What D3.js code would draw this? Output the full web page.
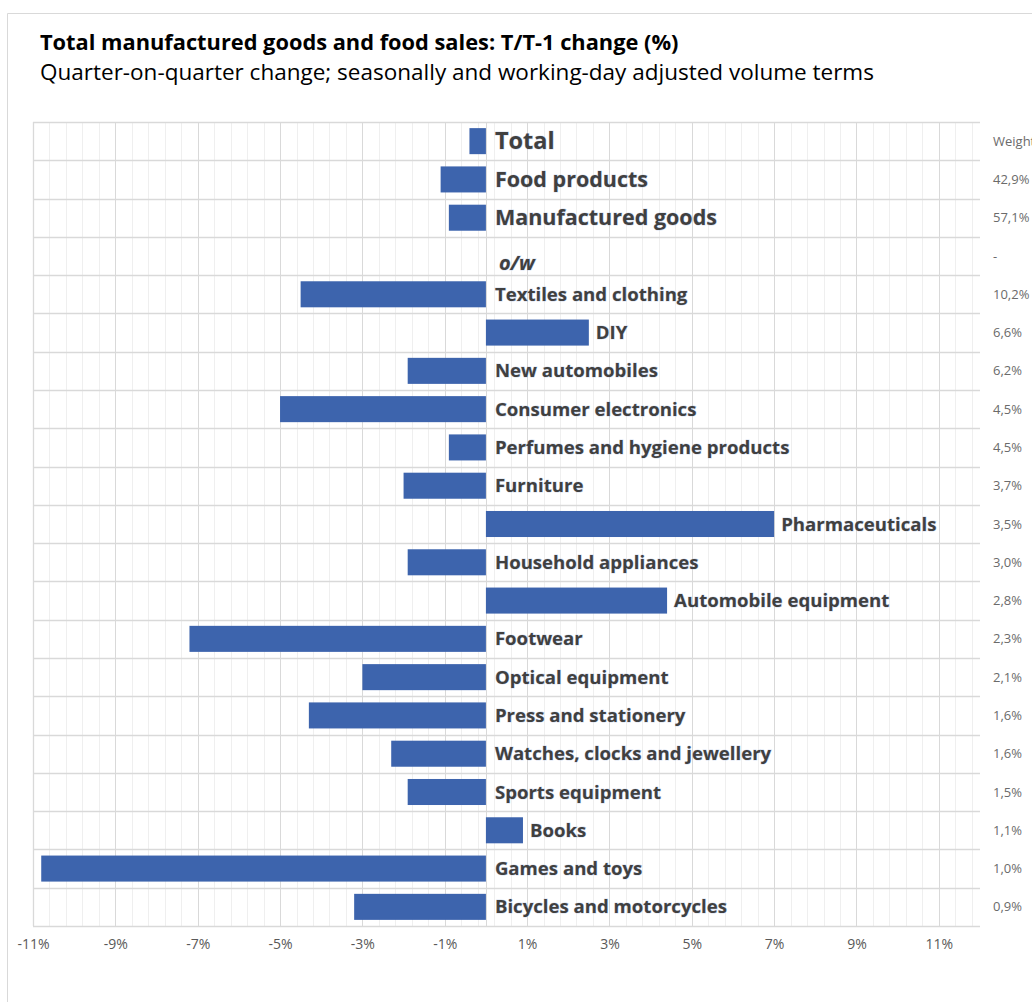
<!DOCTYPE html>
<html>
<head>
<meta charset="utf-8">
<script src="https://cdn.jsdelivr.net/npm/d3@7"></script>
<style>
  body { margin: 0; background: #fff; }
  svg { display: block; font-family: "Open Sans", sans-serif; }
</style>
</head>
<body>
<div id="chart"></div>
<script>
// Data
const categories = [
  "Total", "Food products", "Manufactured goods", "o/w",
  "Textiles and clothing", "DIY", "New automobiles", "Consumer electronics",
  "Perfumes and hygiene products", "Furniture", "Pharmaceuticals",
  "Household appliances", "Automobile equipment", "Footwear",
  "Optical equipment", "Press and stationery", "Watches, clocks and jewellery",
  "Sports equipment", "Books", "Games and toys", "Bicycles and motorcycles"
];
const changes = [
  -0.4, -1.1, -0.9, null,
  -4.5, 2.5, -1.9, -5.0,
  -0.9, -2.0, 7.0,
  -1.9, 4.4, -7.2,
  -3.0, -4.3, -2.3,
  -1.9, 0.9, -10.8, -3.2
];
const weights = [
  "Weight", "42,9%", "57,1%", "-",
  "10,2%", "6,6%", "6,2%", "4,5%",
  "4,5%", "3,7%", "3,5%",
  "3,0%", "2,8%", "2,3%",
  "2,1%", "1,6%", "1,6%",
  "1,5%", "1,1%", "1,0%", "0,9%"
];
const xTicks = [-11, -9, -7, -5, -3, -1, 1, 3, 5, 7, 9, 11];

const rows = categories.map((c, i) => ({ name: c, value: changes[i], weight: weights[i], i }));

// Chart dimensions and margins
const width = 1032;
const height = 1002;
const marginTop = 122;
const marginRight = 52;
const marginBottom = 76;
const marginLeft = 33;

const x = d3.scaleLinear([-11, 12], [marginLeft, width - marginRight]);
const y = d3.scaleBand(categories, [marginTop, height - marginBottom])
    .paddingInner(0.32)
    .paddingOuter(0.16);

const svg = d3.select("#chart").append("svg")
    .attr("width", width)
    .attr("height", height)
    .attr("viewBox", [0, 0, width, height]);

svg.append("rect").attr("width", width).attr("height", height).attr("fill", "#fff");

// outer frame (top and left edges visible)
svg.append("path")
    .attr("d", `M7.5,${height + 5}V13.5H${width + 5}`)
    .attr("fill", "none")
    .attr("stroke", "#d9d9d9");

// titles
svg.append("text")
    .attr("x", 40).attr("y", 50)
    .attr("font-size", 21.8).attr("font-weight", 700).attr("fill", "#000")
    .text("Total manufactured goods and food sales: T/T-1 change (%)");
svg.append("text")
    .attr("x", 40).attr("y", 80)
    .attr("font-size", 22.5).attr("fill", "#000")
    .text("Quarter-on-quarter change; seasonally and working-day adjusted volume terms");

const grid = svg.append("g");
const plotTop = marginTop, plotBottom = height - marginBottom;

// minor vertical gridlines
grid.selectAll(".minor")
  .data(d3.range(-11, 12, 0.4))
  .join("line")
    .attr("x1", d => Math.round(x(d)) + 0.5).attr("x2", d => Math.round(x(d)) + 0.5)
    .attr("y1", plotTop).attr("y2", plotBottom)
    .attr("stroke", "#efefef");

// major vertical gridlines
grid.selectAll(".major")
  .data(xTicks)
  .join("line")
    .attr("x1", d => Math.round(x(d)) + 0.5).attr("x2", d => Math.round(x(d)) + 0.5)
    .attr("y1", plotTop).attr("y2", plotBottom)
    .attr("stroke", "#d9d9d9");

// horizontal row separators
const step = y.step();
const rowEdges = categories.map(c => y(c) - step * y.paddingInner() / 2)
    .concat([y(categories[categories.length - 1]) + y.bandwidth() + step * y.paddingInner() / 2]);
grid.selectAll(".row")
  .data(rowEdges)
  .join("line")
    .attr("x1", x(-11)).attr("x2", x(12))
    .attr("y1", d => Math.round(d) + 0.5).attr("y2", d => Math.round(d) + 0.5)
    .attr("stroke", "#d9d9d9")
    .attr("stroke-width", 1.3);

// left edge + zero axis line
grid.append("line")
    .attr("x1", Math.round(x(-11)) + 0.5).attr("x2", Math.round(x(-11)) + 0.5)
    .attr("y1", plotTop).attr("y2", plotBottom)
    .attr("stroke", "#d9d9d9").attr("stroke-width", 1.3);
grid.append("line")
    .attr("x1", Math.round(x(0)) + 0.5).attr("x2", Math.round(x(0)) + 0.5)
    .attr("y1", plotTop).attr("y2", plotBottom)
    .attr("stroke", "#d9d9d9");

// x axis labels
svg.append("g")
    .attr("transform", `translate(0,${plotBottom})`)
    .call(d3.axisBottom(x).tickValues(xTicks).tickFormat(d => d + "%").tickSize(0).tickPadding(13))
    .call(g => g.select(".domain").remove())
    .call(g => g.selectAll("text")
        .attr("font-family", "Open Sans, sans-serif")
        .attr("font-size", 14)
        .attr("fill", "#595959"));

// bars
svg.append("g")
  .selectAll("rect")
  .data(rows.filter(d => d.value != null))
  .join("rect")
    .attr("x", d => x(Math.min(0, d.value)))
    .attr("width", d => Math.abs(x(d.value) - x(0)))
    .attr("y", d => y(d.name))
    .attr("height", y.bandwidth())
    .attr("fill", "#3d64ad");

// category labels
const labelSize = d => d.i === 0 ? 23.5 : d.i < 3 ? 21.5 : d.i === 3 ? 20 : 18.6;
svg.append("g")
  .selectAll("text")
  .data(rows)
  .join("text")
    .attr("x", d => d.value > 0 ? x(d.value) + 7 : x(0) + (d.value == null ? 13 : 9))
    .attr("y", d => y(d.name) + y.bandwidth() / 2)
    .attr("dy", d => d.value == null ? "0.7em" : "0.35em")
    .attr("font-size", labelSize)
    .attr("font-weight", 700)
    .attr("font-style", d => d.value == null ? "italic" : "normal")
    .attr("fill", "#404040")
    .attr("stroke", "rgba(120,150,210,0.3)")
    .attr("stroke-width", 1.2)
    .attr("paint-order", "stroke")
    .text(d => d.name);

// weights column
svg.append("g")
  .selectAll("text")
  .data(rows)
  .join("text")
    .attr("x", 993)
    .attr("y", d => y(d.name) + y.bandwidth() / 2 + 4.5)
    .attr("font-size", 13)
    .attr("fill", "#6b6b6b")
    .text(d => d.weight);
</script>
</body>
</html>
